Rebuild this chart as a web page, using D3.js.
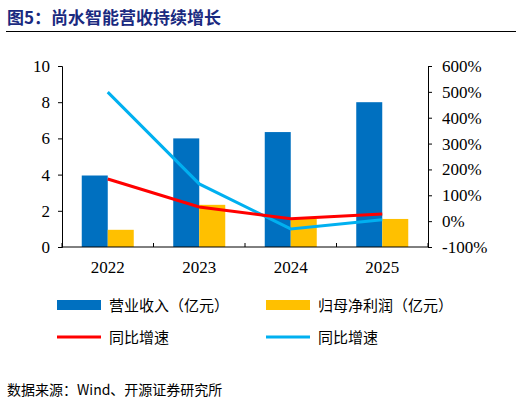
<!DOCTYPE html>
<html><head><meta charset="utf-8">
<script src="https://cdn.jsdelivr.net/npm/d3@7"></script>
<style>body{margin:0;background:#fff}.tk text{font-family:'Liberation Serif','DejaVu Serif',serif !important;font-size:17px}</style></head>
<body><svg id="c" width="522" height="405"></svg>
<script>
const years=["2022","2023","2024","2025"];
const revenue=[3.95,6.0,6.35,8.0];
const profit=[0.95,2.33,1.55,1.55];
const revGrowth=[163,55,9,28];
const profGrowth=[499,144,-30,5];
const leftTicks=[0,2,4,6,8,10];
const rightTicks=[-100,0,100,200,300,400,500,600];

const svg=d3.select("#c");
const cjk="'Noto Sans CJK SC',sans-serif";
svg.append("text").attr("x",7).attr("y",24).attr("font-family",cjk).attr("font-weight","bold").attr("font-size",17).attr("fill","#1a2a80").text("图5：尚水智能营收持续增长");
svg.append("line").attr("x1",6).attr("x2",516).attr("y1",31.5).attr("y2",31.5).attr("stroke","#000").attr("stroke-width",1);

const L=62,R=428,T=66,B=247;
const x=d3.scaleBand().domain(years).range([L,R]);
const y=d3.scaleLinear().domain([0,10]).range([B,T]);
const y2=d3.scaleLinear().domain([-100,600]).range([B,T]);
const bw=26;
svg.append("g").selectAll("rect").data(revenue).join("rect")
 .attr("x",(d,i)=>x(years[i])+x.bandwidth()/2-bw).attr("y",d=>y(d)).attr("width",bw).attr("height",d=>B-y(d)).attr("fill","#0070C0");
svg.append("g").selectAll("rect").data(profit).join("rect")
 .attr("x",(d,i)=>x(years[i])+x.bandwidth()/2).attr("y",d=>y(d)).attr("width",bw).attr("height",d=>B-y(d)).attr("fill","#FFC000");

const ax=svg.append("g").attr("class","tk").attr("transform",`translate(${L},0)`).call(d3.axisLeft(y).tickValues(leftTicks).tickSize(4).tickPadding(8));
const ax2=svg.append("g").attr("class","tk").attr("transform",`translate(${R},0)`).call(d3.axisRight(y2).tickValues(rightTicks).tickSize(4).tickPadding(10).tickFormat(d=>d+"%"));
const axb=svg.append("g").attr("class","tk").attr("transform",`translate(0,${B})`).call(d3.axisBottom(x).tickSize(0).tickPadding(14));
axb.selectAll(".domain").remove();
axb.append("line").attr("x1",L).attr("x2",R).attr("stroke","#000");
axb.selectAll(".sep").data(d3.range(5)).join("line").attr("x1",i=>L+i*x.step()).attr("x2",i=>L+i*x.step()).attr("y1",0).attr("y2",-4).attr("stroke","#000");
[ax,ax2,axb].forEach(g=>{g.selectAll("text").attr("fill","#000");g.selectAll("path,line").attr("stroke","#000");});

const line=d3.line().x((d,i)=>x(years[i])+x.bandwidth()/2).y(d=>y2(d));
svg.append("path").datum(profGrowth).attr("d",line).attr("fill","none").attr("stroke","#00B0F0").attr("stroke-width",3);
svg.append("path").datum(revGrowth).attr("d",line).attr("fill","none").attr("stroke","#FF0000").attr("stroke-width",3);

const leg=[["rect","#0070C0","营业收入（亿元）",57,305],["rect","#FFC000","归母净利润（亿元）",266,305],["line","#FF0000","同比增速",57,337],["line","#00B0F0","同比增速",266,337]];
leg.forEach(([t,c,s,lx,ly])=>{
 if(t=="rect")svg.append("rect").attr("x",lx).attr("y",ly-5).attr("width",44).attr("height",10).attr("fill",c);
 else svg.append("line").attr("x1",lx).attr("x2",lx+44).attr("y1",ly).attr("y2",ly).attr("stroke",c).attr("stroke-width",3);
 svg.append("text").attr("x",lx+52).attr("y",ly+6).attr("font-family",cjk).attr("font-size",15).text(s);
});
svg.append("text").attr("x",7).attr("y",395).attr("font-family",cjk).attr("font-size",14).text("数据来源：Wind、开源证券研究所");
</script></body></html>
